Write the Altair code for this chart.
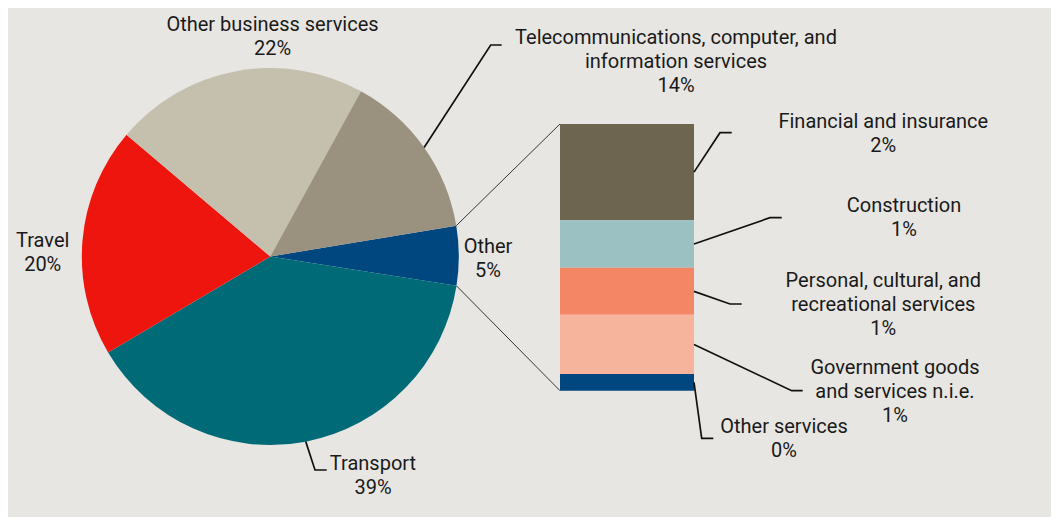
import math
import altair as alt
import pandas as pd

# ---------------- data ----------------
pie_cats = ["Other", "Transport", "Travel", "Other business services",
            "Telecommunications, computer, and information services"]
pie_vals = [5.1, 39.0, 19.7, 21.8, 14.4]
pie_colors = ["#00467f", "#006b77", "#ee150f", "#c5bfad", "#9b917f"]
pie_labels = [["Other", "5%"],
              ["Transport", "39%"],
              ["Travel", "20%"],
              ["Other business services", "22%"],
              ["Telecommunications, computer, and", "information services", "14%"]]

bar_cats = ["Financial and insurance", "Construction",
            "Personal, cultural, and recreational services",
            "Government goods and services n.i.e.", "Other services"]
bar_vals = [1.84, 0.91, 0.90, 1.13, 0.32]
bar_colors = ["#6d6550", "#9bc1c3", "#f48565", "#f6b49c", "#00467f"]
bar_labels = [["Financial and insurance", "2%"],
              ["Construction", "1%"],
              ["Personal, cultural, and", "recreational services", "1%"],
              ["Government goods", "and services n.i.e.", "1%"],
              ["Other services", "0%"]]

# ---------------- layout ----------------
W, H = 1043, 509
BG = "#e8e6e2"
FONT = "Roboto"
FS = 20
LH = 24
TXT = "#1a1a1a"

PIE_CX, PIE_CY, PIE_R = 262.3, 248.5, 188.5
START_DEG = 80.6
BAR_X0, BAR_X1, BAR_TOP, BAR_BOT = 552, 686, 116, 382.7

pie_label_pos = [(480, 238.7), (365, 456), (34.7, 233), (264.5, 17), (668, 30)]
pie_leader_knees = {1: [(307, 462), (318.7, 462)], 4: [(482.7, 37), (493.7, 37)]}
bar_label_pos = [(875.3, 113.7), (896, 198), (875.3, 273), (887, 359.7), (776, 419.3)]
bar_leader_knees = [[(712, 124.7), (723.7, 124.7)],
                    [(762, 209.7), (773.7, 209.7)],
                    [(722, 296), (733.7, 296)],
                    [(783.7, 382.7), (794.7, 382.7)],
                    [(693.7, 430.3), (705.3, 430.3)]]

# ---------------- derived tables ----------------
start = math.radians(START_DEG)
pie_total = sum(pie_vals)
pie_df = pd.DataFrame({"cat": pie_cats, "value": pie_vals,
                       "color": pie_colors, "idx": range(len(pie_cats))})


def pie_point(frac, r=PIE_R):
    a = start + 2 * math.pi * frac
    return PIE_CX + r * math.sin(a), PIE_CY - r * math.cos(a)


bar_total = sum(bar_vals)
bar_df = pd.DataFrame({"cat": bar_cats, "value": bar_vals,
                       "color": bar_colors, "idx": range(len(bar_cats))})

text_rows = []
for labs, (x, y) in zip(pie_labels + bar_labels, pie_label_pos + bar_label_pos):
    for k, t in enumerate(labs):
        text_rows.append({"x": x, "y": y + k * LH, "text": t})
text_df = pd.DataFrame(text_rows)

lead_rows = []
cum = 0.0
for i, v in enumerate(pie_vals):
    mid = (cum + v / 2) / pie_total
    if i in pie_leader_knees:
        pts = [pie_point(mid)] + pie_leader_knees[i]
        for k, (x, y) in enumerate(pts):
            lead_rows.append({"id": f"p{i}", "k": k, "x": x, "y": y})
    cum += v

# bar stacks from bottom: last category at bottom
bh = BAR_BOT - BAR_TOP
cum = 0.0
centers = {}
for i in reversed(range(len(bar_vals))):
    v = bar_vals[i]
    centers[i] = BAR_BOT - (cum + v / 2) / bar_total * bh
    cum += v
for i in range(len(bar_vals)):
    pts = [(BAR_X1, centers[i])] + bar_leader_knees[i]
    for k, (x, y) in enumerate(pts):
        lead_rows.append({"id": f"b{i}", "k": k, "x": x, "y": y})
lead_df = pd.DataFrame(lead_rows)

# connector lines from the "Other" slice to the bar
o0 = pie_point(0.0)
o1 = pie_point(pie_vals[0] / pie_total)
conn_df = pd.DataFrame([
    {"id": "top", "k": 0, "x": o0[0], "y": o0[1]},
    {"id": "top", "k": 1, "x": BAR_X0, "y": BAR_TOP},
    {"id": "bot", "k": 0, "x": o1[0], "y": o1[1]},
    {"id": "bot", "k": 1, "x": BAR_X0, "y": BAR_BOT},
])

sx = alt.Scale(domain=[0, W], range=[0, W])
sy = alt.Scale(domain=[0, H], range=[0, H])

pie = alt.Chart(pie_df).mark_arc(radius=PIE_R).encode(
    theta=alt.Theta("value:Q", stack=True,
                    scale=alt.Scale(range=[start, start + 2 * math.pi])),
    order=alt.Order("idx:Q"),
    color=alt.Color("color:N", scale=None, legend=None),
    x=alt.value(PIE_CX),
    y=alt.value(PIE_CY),
)

bar = alt.Chart(bar_df).transform_stack(
    stack="value", groupby=[], as_=["v0", "v1"],
    sort=[alt.SortField("idx", order="descending")],
).mark_bar().encode(
    y=alt.Y("v0:Q",
            scale=alt.Scale(domain=[0, bar_total], range=[BAR_BOT, BAR_TOP]),
            axis=None),
    y2="v1:Q",
    color=alt.Color("color:N", scale=None, legend=None),
    x=alt.value(BAR_X0),
    x2=alt.value(BAR_X1),
)

conn = alt.Chart(conn_df).mark_line(color="#222222", strokeWidth=0.9).encode(
    x=alt.X("x:Q", scale=sx, axis=None),
    y=alt.Y("y:Q", scale=sy, axis=None),
    detail="id:N",
    order="k:Q",
)

leads = alt.Chart(lead_df).mark_line(color="#111111", strokeWidth=1.7).encode(
    x=alt.X("x:Q", scale=sx, axis=None),
    y=alt.Y("y:Q", scale=sy, axis=None),
    detail="id:N",
    order="k:Q",
)

texts = alt.Chart(text_df).mark_text(
    font=FONT, fontSize=FS, color=TXT, align="center", baseline="middle"
).encode(
    x=alt.X("x:Q", scale=sx, axis=None),
    y=alt.Y("y:Q", scale=sy, axis=None),
    text="text:N",
)

chart = alt.layer(pie, bar, conn, leads, texts).resolve_scale(
    x="independent", y="independent"
).properties(
    width=W, height=H, background=BG, padding=0,
    autosize=alt.AutoSizeParams(type="none"),
).configure_view(stroke=None)

chart.save("out.html", embed_options={"renderer": "svg", "actions": False})
